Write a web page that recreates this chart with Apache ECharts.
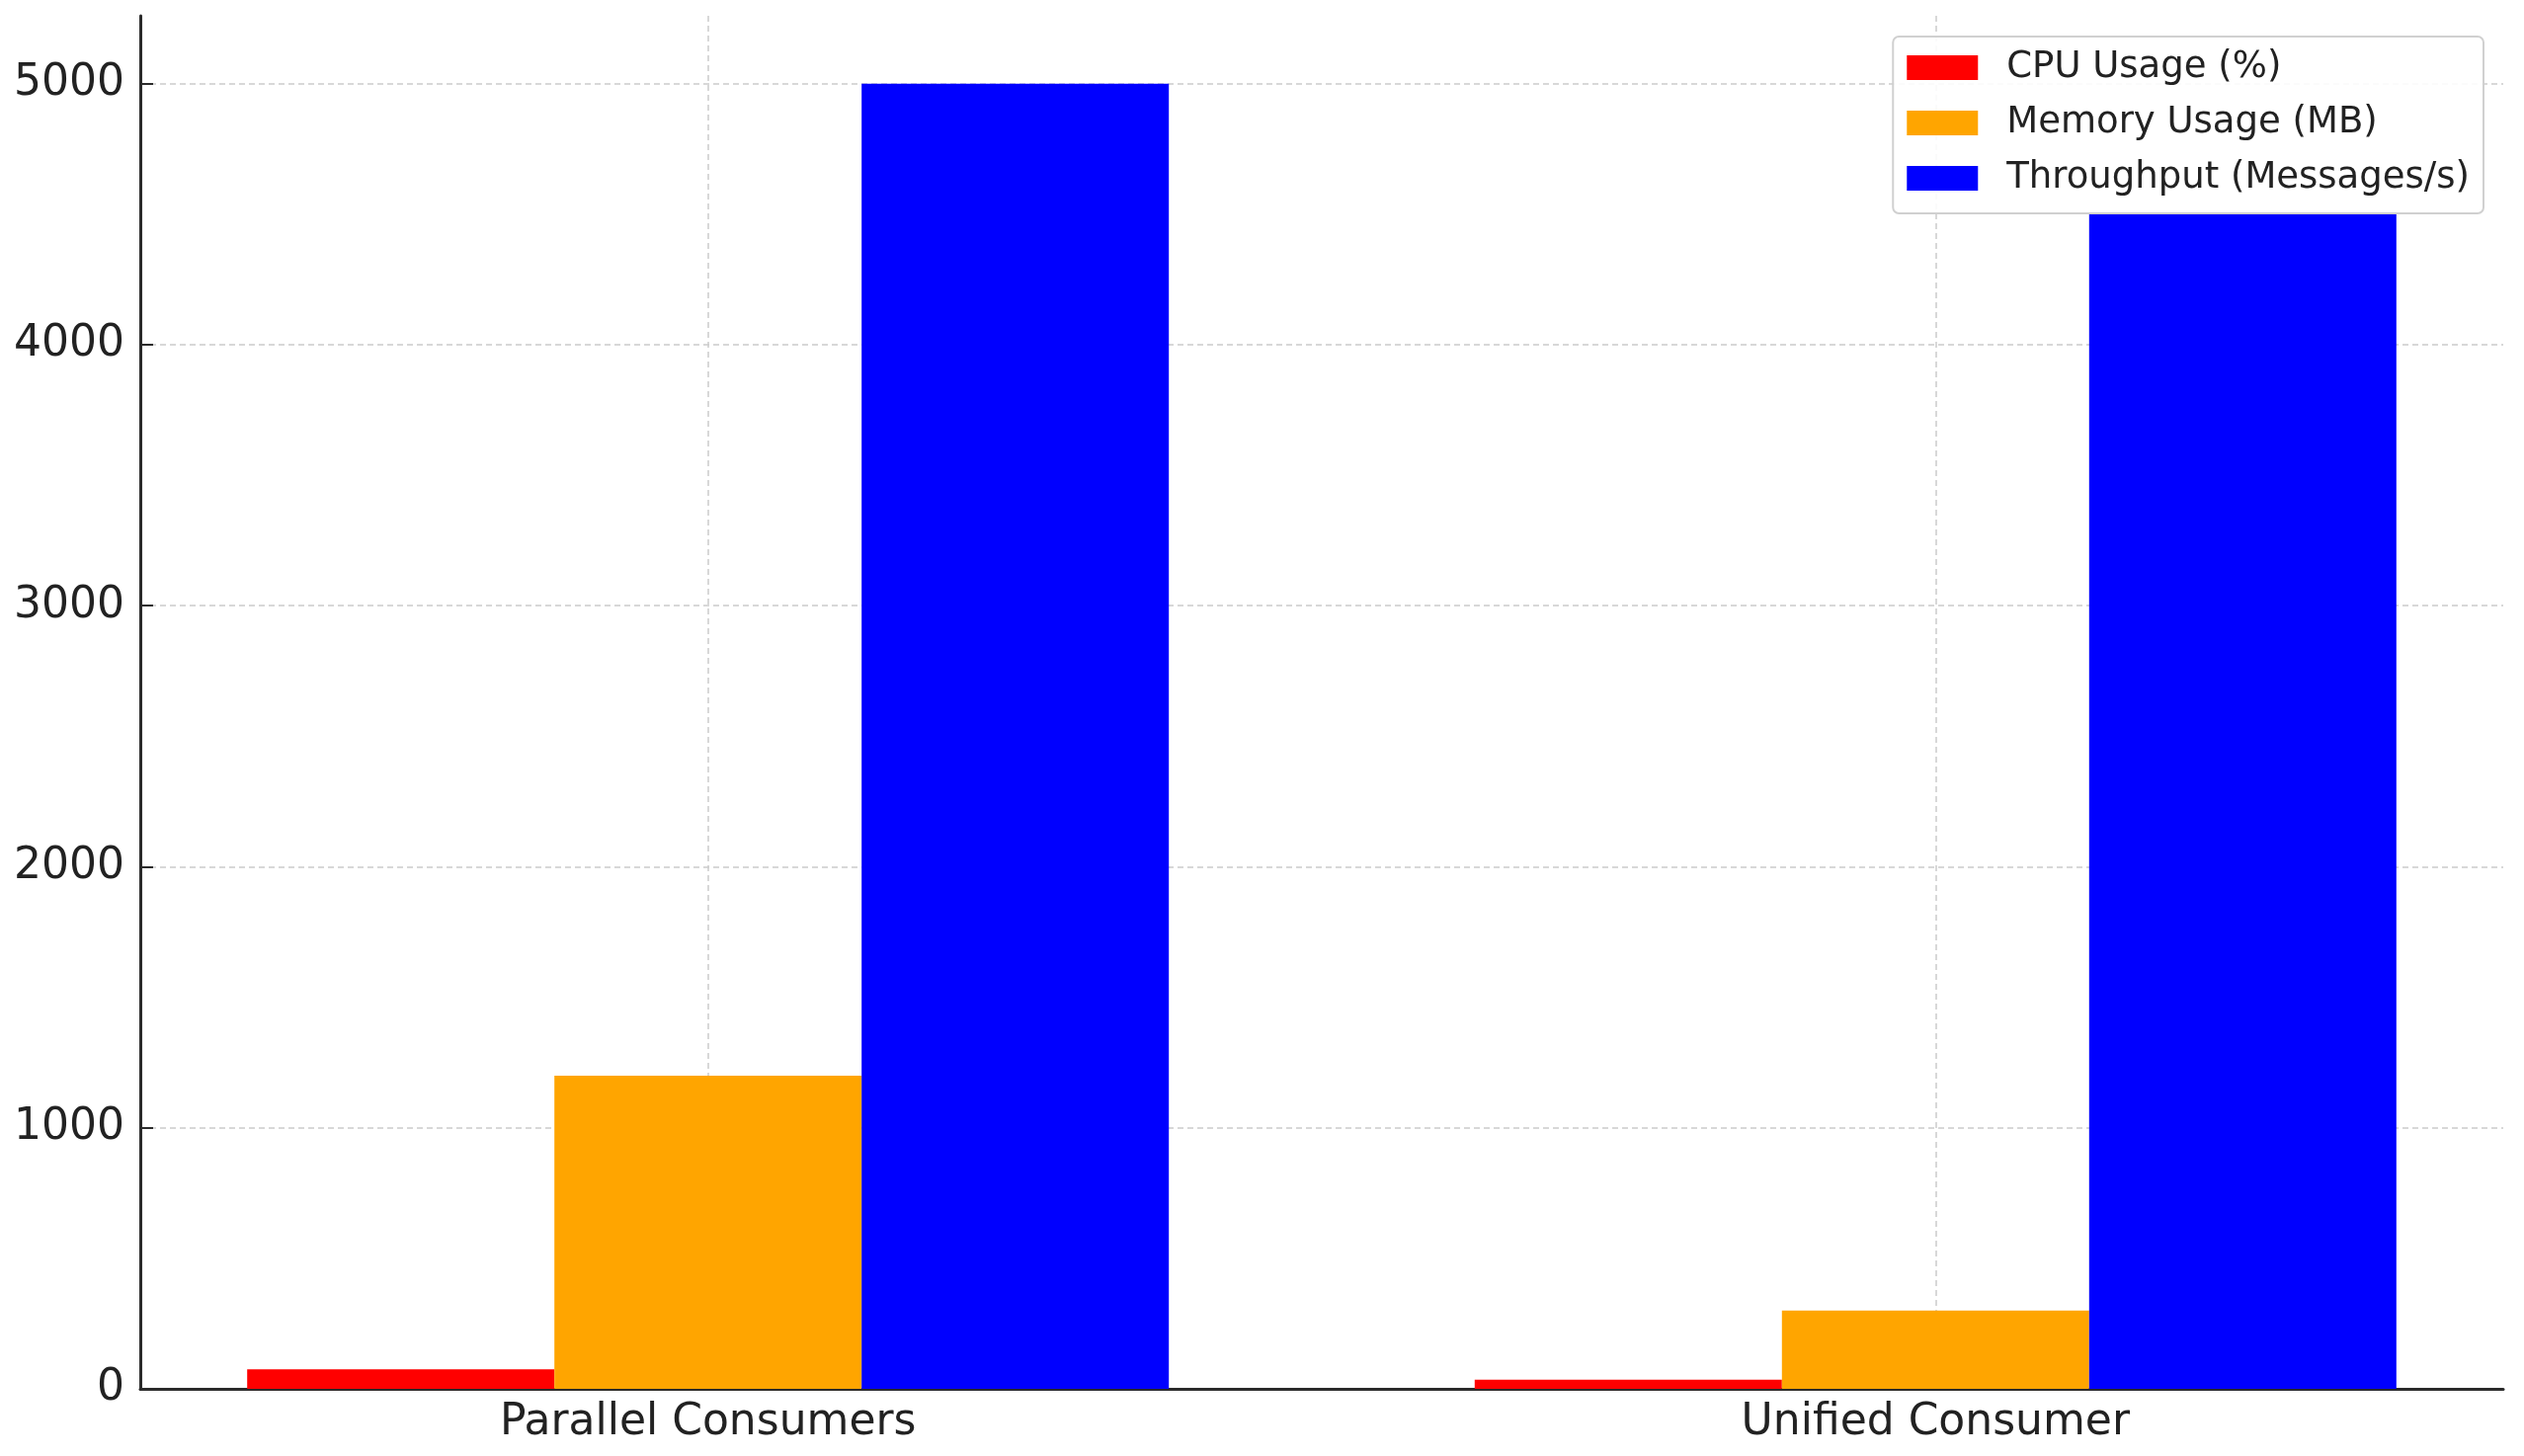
<!DOCTYPE html>
<html>
<head>
<meta charset="utf-8">
<style>
  html, body { margin: 0; padding: 0; background: #fff; }
  #chart { width: 2555px; height: 1474px; }
</style>
<script src="https://cdn.jsdelivr.net/npm/echarts@6/dist/echarts.min.js"></script>
</head>
<body>
<div id="chart"></div>
<script>
// values
const categories = ['Parallel Consumers', 'Unified Consumer'];
const cpuUsage = [75, 35];
const memoryUsage = [1200, 300];
const throughput = [5000, 4500];
const yTicks = [0, 1000, 2000, 3000, 4000, 5000];
const xTicks = [0, 1];

const seriesDefs = [
  { name: 'CPU Usage (%)', values: cpuUsage, color: '#ff0000' },
  { name: 'Memory Usage (MB)', values: memoryUsage, color: '#ffa500' },
  { name: 'Throughput (Messages/s)', values: throughput, color: '#0000ff' },
];

const chart = echarts.init(document.getElementById('chart'), null, { renderer: 'canvas' });

const axisColor = '#2b2b2b';
const gridLine = { show: true, lineStyle: { color: '#cccccc', width: 1.5, type: [6, 4] } };

chart.setOption({
  animation: false,
  backgroundColor: '#ffffff',
  textStyle: { fontFamily: 'DejaVu Sans' },
  grid: { left: 142, right: 21, top: 16, bottom: 68, containLabel: false },
  legend: {
    orient: 'vertical',
    right: 41,
    top: 37,
    padding: [13, 14, 17, 14],
    itemWidth: 72,
    itemHeight: 25,
    itemGap: 19,
    icon: 'rect',
    backgroundColor: 'rgba(255,255,255,0.9)',
    borderColor: '#d0d0d0',
    borderWidth: 2,
    borderRadius: 6,
    textStyle: { fontSize: 37, lineHeight: 36, color: '#222', padding: [0, 0, 0, 24], fontFamily: 'DejaVu Sans' },
    data: seriesDefs.map(s => s.name),
  },
  xAxis: {
    type: 'value',
    min: -0.4625,
    max: 1.4625,
    axisLine: { show: true, onZero: false, lineStyle: { color: axisColor, width: 3 } },
    axisTick: { show: true, inside: true, length: 13, customValues: xTicks, lineStyle: { color: axisColor, width: 2 } },
    axisLabel: {
      customValues: xTicks,
      formatter: v => categories[Math.round(v)] || '',
      fontSize: 44,
      color: '#222',
      margin: 13,
      fontFamily: 'DejaVu Sans',
    },
    splitLine: gridLine,
  },
  yAxis: {
    type: 'value',
    min: 0,
    max: 5260,
    axisLine: { show: true, onZero: false, lineStyle: { color: axisColor, width: 3 } },
    axisTick: { show: true, inside: true, length: 13, customValues: yTicks, lineStyle: { color: axisColor, width: 2 } },
    axisLabel: {
      customValues: yTicks,
      formatter: v => String(v),
      fontSize: 44,
      color: '#222',
      margin: 16,
      fontFamily: 'DejaVu Sans',
    },
    splitLine: gridLine,
  },
  series: seriesDefs.map(s => ({
    name: s.name,
    type: 'bar',
    barWidth: 311,
    barGap: '0%',
    itemStyle: { color: s.color },
    data: s.values.map((v, i) => [i, v]),
  })),
});
</script>
</body>
</html>
